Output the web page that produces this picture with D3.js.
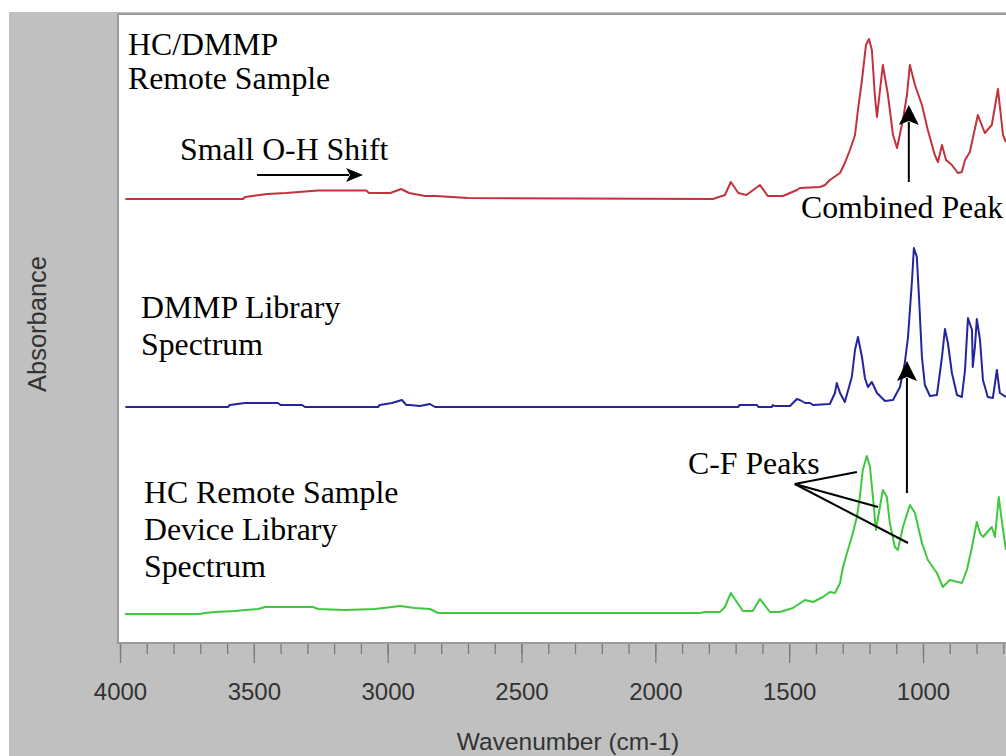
<!DOCTYPE html>
<html>
<head>
<meta charset="utf-8">
<script src="https://cdn.jsdelivr.net/npm/d3@7"></script>
<style>
  html, body { margin: 0; padding: 0; background: #fff; }
  svg { display: block; }
</style>
</head>
<body>
<script>
const width = 1006, height = 756;

// axis ticks (cm-1)
const majorTicks = [4000, 3500, 3000, 2500, 2000, 1500, 1000];
const minorTicks = d3.range(4000, 650, -100);

// spectra: [wavenumber, absorbance above own baseline]
const redSpectrum = [
  [3980, 0], [3540, 0], [3533, 0.02], [3450, 0.05], [3380, 0.06], [3260, 0.085], [3080, 0.085],
  [3070, 0.06], [2990, 0.06], [2950, 0.10], [2920, 0.06], [2880, 0.04], [2860, 0.03], [2820, 0.03],
  [2700, 0.01], [1785, 0], [1740, 0.04], [1718, 0.17], [1690, 0.06], [1660, 0.04], [1609, 0.14],
  [1580, 0.03], [1523, 0.03], [1471, 0.09], [1460, 0.11], [1385, 0.12], [1366, 0.14], [1348, 0.19],
  [1310, 0.26], [1292, 0.36], [1273, 0.49], [1254, 0.64], [1243, 0.89], [1228, 1.19], [1213, 1.54],
  [1202, 1.60], [1191, 1.49], [1180, 1.04], [1172, 0.82], [1150, 1.34], [1131, 1.04], [1112, 0.64],
  [1097, 0.51], [1075, 0.79], [1060, 1.04], [1049, 1.34], [1030, 1.14], [1004, 0.94], [982, 0.69],
  [956, 0.44], [944, 0.37], [929, 0.54], [914, 0.39], [892, 0.34], [870, 0.26], [855, 0.27],
  [843, 0.39], [825, 0.47], [795, 0.84], [769, 0.66], [743, 0.74], [720, 1.10], [701, 0.64], [690, 0.57]
];
const blueSpectrum = [
  [3980, 0.01], [3597, 0.01], [3590, 0.03], [3533, 0.05], [3410, 0.05], [3400, 0.03], [3320, 0.03],
  [3309, 0.01], [3300, 0.01], [3036, 0.01], [3030, 0.03], [2984, 0.05], [2947, 0.08], [2930, 0.03],
  [2917, 0.03], [2880, 0.02], [2842, 0.04], [2823, 0.01], [1691, 0.01], [1685, 0.03], [1620, 0.03],
  [1615, 0.01], [1565, 0.01], [1561, 0.03], [1555, 0.02], [1497, 0.02], [1471, 0.09], [1460, 0.08],
  [1440, 0.05], [1422, 0.05], [1411, 0.03], [1348, 0.04], [1329, 0.15], [1322, 0.25], [1310, 0.15],
  [1292, 0.06], [1266, 0.31], [1254, 0.58], [1243, 0.71], [1228, 0.51], [1217, 0.30], [1206, 0.21],
  [1191, 0.26], [1172, 0.15], [1142, 0.07], [1112, 0.08], [1086, 0.21], [1068, 0.45], [1056, 0.71],
  [1041, 1.28], [1034, 1.60], [1023, 1.51], [1015, 1.11], [1004, 0.51], [993, 0.23], [974, 0.12],
  [948, 0.13], [929, 0.51], [918, 0.79], [907, 0.65], [892, 0.35], [873, 0.13], [855, 0.11],
  [843, 0.38], [832, 0.90], [817, 0.78], [814, 0.41], [806, 0.61], [799, 0.89], [787, 0.68],
  [776, 0.28], [758, 0.11], [739, 0.10], [724, 0.38], [713, 0.15], [690, 0.11]
];
const greenSpectrum = [
  [3981, -0.02], [3701, -0.02], [3682, -0.01], [3645, 0], [3570, 0.01], [3533, 0.02], [3484, 0.03],
  [3458, 0.05], [3279, 0.05], [3260, 0.03], [3160, 0.02], [3047, 0.03], [2954, 0.06], [2898, 0.04],
  [2842, 0.03], [2812, -0.01], [1833, -0.01], [1815, 0], [1759, 0], [1740, 0.05], [1718, 0.19],
  [1673, 0.01], [1636, 0.01], [1609, 0.13], [1572, 0], [1535, 0], [1486, 0.04], [1441, 0.12],
  [1411, 0.10], [1374, 0.15], [1348, 0.20], [1329, 0.19], [1310, 0.29], [1299, 0.45], [1284, 0.59],
  [1266, 0.75], [1247, 0.95], [1236, 1.15], [1225, 1.42], [1210, 1.56], [1198, 1.45], [1187, 1.15],
  [1176, 0.82], [1161, 1.05], [1150, 1.22], [1135, 1.15], [1124, 0.89], [1105, 0.65], [1094, 0.62],
  [1075, 0.85], [1049, 1.07], [1030, 0.99], [1004, 0.69], [982, 0.52], [948, 0.39], [926, 0.25],
  [900, 0.32], [855, 0.29], [836, 0.42], [817, 0.65], [799, 0.90], [787, 0.79], [776, 0.75],
  [743, 0.85], [731, 0.75], [717, 1.15], [701, 0.82], [690, 0.62]
];

const seriesData = [redSpectrum, blueSpectrum, greenSpectrum];
const seriesColors = ['#c3313b', '#24249c', '#3ec83e'];
const seriesOffsets = [4.44, 2.35, 0.31];

const plot = { left: 118, top: 14, right: 1012, bottom: 643 };

const svg = d3.select('body')
    .append('svg')
    .attr('width', width)
    .attr('height', height)

// grey panel + white plot area
svg.append('rect')
    .attr('x', 9).attr('y', 12)
    .attr('width', width - 9).attr('height', height - 12)
    .attr('fill', '#c0c0c0')
svg.append('rect')
    .attr('x', plot.left).attr('y', plot.top)
    .attr('width', plot.right - plot.left).attr('height', plot.bottom - plot.top)
    .attr('fill', '#fff')
    .attr('stroke', '#9b9b9b')
    .attr('stroke-width', 2)

svg.append('clipPath').attr('id', 'plotclip')
    .append('rect')
    .attr('x', plot.left + 1).attr('y', plot.top + 1)
    .attr('width', plot.right - plot.left).attr('height', plot.bottom - plot.top - 2)

const xScale = d3.scaleLinear().domain([4000, 1000]).range([120, 923]);
const yScale = d3.scaleLinear().domain([0, 6.29]).range([643, 14]);

// spectra
const curves = svg.append('g').attr('clip-path', 'url(#plotclip)');
seriesData.forEach((data, i) => {
    const line = d3.line()
        .x(d => xScale(d[0]))
        .y(d => yScale(d[1] + seriesOffsets[i]));
    curves.append('path')
        .attr('d', line(data))
        .attr('fill', 'none')
        .attr('stroke', seriesColors[i])
        .attr('stroke-width', 2)
        .attr('stroke-linejoin', 'round')
})

// x axis: minor + major ticks
const axisY = plot.bottom + 1;
const minorAxis = svg.append('g')
    .attr('transform', `translate(0,${axisY})`)
    .call(d3.axisBottom(xScale).tickValues(minorTicks).tickSize(10).tickFormat(''))
minorAxis.select('.domain').remove()
const majorAxis = svg.append('g')
    .attr('transform', `translate(0,${axisY})`)
    .call(d3.axisBottom(xScale).tickValues(majorTicks).tickSize(19).tickPadding(20).tickFormat(d3.format('d')))
majorAxis.select('.domain').remove()
svg.selectAll('.tick line').attr('stroke', '#7a7a7a').attr('stroke-width', 1.3)
majorAxis.selectAll('text')
    .attr('fill', '#333')
    .style('font-family', '"Liberation Sans", Arial, sans-serif')
    .style('font-size', '24px')

// axis titles
svg.append('text')
    .attr('x', 568).attr('y', 750)
    .attr('text-anchor', 'middle')
    .attr('fill', '#333')
    .style('font-family', '"Liberation Sans", Arial, sans-serif')
    .style('font-size', '24.5px')
    .text('Wavenumber (cm-1)')
svg.append('text')
    .attr('transform', 'translate(46,324) rotate(-90)')
    .attr('text-anchor', 'middle')
    .attr('fill', '#333')
    .style('font-family', '"Liberation Sans", Arial, sans-serif')
    .style('font-size', '25.5px')
    .text('Absorbance')

// annotation text
const labels = [
    { text: 'HC/DMMP', x: 128, y: 55 },
    { text: 'Remote Sample', x: 128, y: 89 },
    { text: 'Small O-H Shift', x: 180, y: 160 },
    { text: 'Combined Peak', x: 801, y: 218 },
    { text: 'DMMP Library', x: 141, y: 318 },
    { text: 'Spectrum', x: 141, y: 355 },
    { text: 'C-F Peaks', x: 688, y: 474 },
    { text: 'HC Remote Sample', x: 144, y: 503 },
    { text: 'Device Library', x: 144, y: 540 },
    { text: 'Spectrum', x: 144, y: 577 }
];
svg.selectAll('text.note')
    .data(labels)
    .enter()
    .append('text')
    .attr('class', 'note')
    .attr('x', d => d.x)
    .attr('y', d => d.y)
    .attr('fill', '#000')
    .style('font-family', '"Liberation Serif", "Times New Roman", serif')
    .style('font-size', '31.8px')
    .text(d => d.text)

// arrows, given in spectrum coordinates
const arrows = [
    { from: [3488, 4.68], to: [3092, 4.68] },
    { from: [1053, 4.61], to: [1053, 5.38] },
    { from: [1060, 1.50], to: [1060, 2.82] }
];
const cfLines = [
    { from: [1479, 1.59], to: [1247, 1.71] },
    { from: [1479, 1.59], to: [1168, 1.36] },
    { from: [1479, 1.59], to: [1056, 1.00] }
];

const headLen = 20, headHalf = 10;
arrows.forEach((a, i) => {
    const x1 = xScale(a.from[0]), y1 = yScale(a.from[1]);
    const x2 = xScale(a.to[0]), y2 = yScale(a.to[1]);
    const ang = Math.atan2(y2 - y1, x2 - x1);
    const hl = i === 0 ? 17 : headLen, hw = i === 0 ? 7 : headHalf;
    const bx = x2 - hl * Math.cos(ang), by = y2 - hl * Math.sin(ang);
    svg.append('line')
        .attr('x1', x1).attr('y1', y1)
        .attr('x2', bx + 3 * Math.cos(ang)).attr('y2', by + 3 * Math.sin(ang))
        .attr('stroke', '#000').attr('stroke-width', 2)
    const pts = [
        [x2, y2],
        [bx - hw * Math.sin(ang), by + hw * Math.cos(ang)],
        [bx + 4 * Math.cos(ang), by + 4 * Math.sin(ang)],
        [bx + hw * Math.sin(ang), by - hw * Math.cos(ang)]
    ];
    svg.append('polygon')
        .attr('points', pts.map(p => p.join(',')).join(' '))
        .attr('fill', '#000')
})
cfLines.forEach(l => {
    svg.append('line')
        .attr('x1', xScale(l.from[0])).attr('y1', yScale(l.from[1]))
        .attr('x2', xScale(l.to[0])).attr('y2', yScale(l.to[1]))
        .attr('stroke', '#000').attr('stroke-width', 2)
})
</script>
</body>
</html>
